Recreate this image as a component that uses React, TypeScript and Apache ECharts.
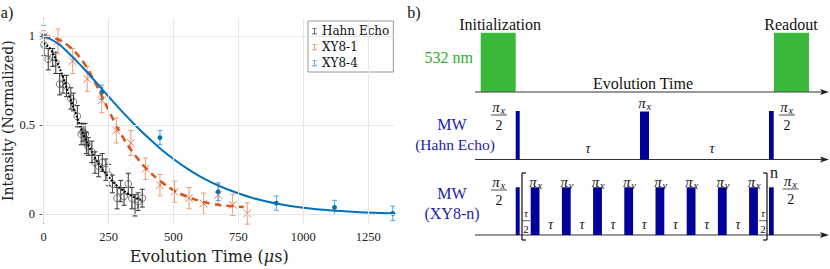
import React, { useEffect, useRef } from "react";
import * as echarts from "echarts";

// ---- data ----
const timeTicks = [0, 250, 500, 750, 1000, 1250];
const intensityTicks = [0, 0.5, 1];

const hahnT = [2, 18, 35, 47, 62, 75, 88, 105, 115, 130, 145, 152, 160, 165, 172, 186, 198, 212, 226, 240, 250, 265, 283, 297, 310, 326, 340, 352, 364, 380];
const hahnI = [0.95, 0.87, 0.88, 0.85, 0.73, 0.73, 0.72, 0.65, 0.63, 0.55, 0.45, 0.46, 0.45, 0.4, 0.38, 0.35, 0.29, 0.27, 0.29, 0.25, 0.22, 0.17, 0.09, 0.13, 0.1, 0.17, 0.09, 0.05, 0.07, 0.09];
const hahnErr = [0.06, 0.06, 0.05, 0.06, 0.06, 0.05, 0.06, 0.06, 0.05, 0.06, 0.06, 0.05, 0.06, 0.06, 0.05, 0.06, 0.06, 0.06, 0.05, 0.06, 0.06, 0.05, 0.06, 0.06, 0.05, 0.06, 0.06, 0.06, 0.05, 0.05];

const xy81T = [0, 56, 112, 168, 224, 280, 336, 392, 448, 504, 560, 616, 672, 728, 784];
const xy81I = [1.0, 0.97, 0.86, 0.76, 0.64, 0.47, 0.4, 0.255, 0.163, 0.126, 0.09, 0.059, 0.108, 0.053, 0.004];
const xy81Err = [0.03, 0.07, 0.07, 0.07, 0.07, 0.07, 0.07, 0.06, 0.06, 0.06, 0.06, 0.06, 0.06, 0.06, 0.06];

const xy84T = [0, 224, 448, 672, 896, 1120, 1344];
const xy84I = [1.0, 0.685, 0.43, 0.126, 0.062, 0.038, 0.005];
const xy84Err = [0.06, 0.04, 0.04, 0.05, 0.04, 0.04, 0.04];

const hahnFitT = [0, 25, 50, 75, 100, 125, 150, 175, 200, 225, 250, 275, 300, 325, 350, 375];
const hahnFitI = [0.96, 0.93, 0.86, 0.77, 0.66, 0.56, 0.46, 0.38, 0.31, 0.255, 0.21, 0.17, 0.14, 0.115, 0.095, 0.08];

const xy81FitT = [0, 50, 100, 150, 200, 250, 300, 350, 400, 450, 500, 550, 600, 650, 700, 770];
const xy81FitI = [1.0, 0.985, 0.94, 0.86, 0.735, 0.585, 0.445, 0.335, 0.25, 0.185, 0.135, 0.1, 0.075, 0.058, 0.048, 0.04];

const xy84FitT = [0, 50, 100, 150, 200, 250, 300, 350, 400, 450, 500, 550, 600, 650, 700, 800, 900, 1000, 1100, 1200, 1300, 1350];
const xy84FitI = [1.0, 0.964, 0.9, 0.825, 0.744, 0.661, 0.58, 0.504, 0.433, 0.368, 0.31, 0.259, 0.214, 0.176, 0.144, 0.093, 0.059, 0.036, 0.022, 0.013, 0.0074, 0.0055];

const seriesNames = ["Hahn Echo", "XY8-1", "XY8-4"];
const xy8Phases = ["x", "y", "x", "y", "y", "x", "y", "x"];

const FONT = "Liberation Serif, DejaVu Serif, serif";
const WIDE = "DejaVu Serif, Liberation Serif, serif";

const zip3 = (a: number[], b: number[], c: number[]) => a.map((v, i) => [v, b[i], c[i]]);
const zip2 = (a: number[], b: number[]) => a.map((v, i) => [v, b[i]]);

function errRender(kind: string, markColor: string, barColor: string) {
  return (params: any, api: any) => {
    const x = api.value(0), y = api.value(1), e = api.value(2);
    const c = api.coord([x, y]);
    const t = api.coord([x, y + e]);
    const b = api.coord([x, y - e]);
    const w = 2.5;
    const st = { stroke: barColor, lineWidth: 1 };
    const ch: any[] = [
      { type: "line", shape: { x1: c[0], y1: t[1], x2: c[0], y2: b[1] }, style: st },
      { type: "line", shape: { x1: c[0] - w, y1: t[1], x2: c[0] + w, y2: t[1] }, style: st },
      { type: "line", shape: { x1: c[0] - w, y1: b[1], x2: c[0] + w, y2: b[1] }, style: st },
    ];
    if (kind === "circle") {
      ch.push({ type: "circle", shape: { cx: c[0], cy: c[1], r: 3.4 }, style: { fill: "none", stroke: markColor, lineWidth: 0.8 } });
    } else if (kind === "cross") {
      const s = 3.8;
      const cs = { stroke: markColor, lineWidth: 1 };
      ch.push({ type: "line", shape: { x1: c[0] - s, y1: c[1] - s, x2: c[0] + s, y2: c[1] + s }, style: cs });
      ch.push({ type: "line", shape: { x1: c[0] - s, y1: c[1] + s, x2: c[0] + s, y2: c[1] - s }, style: cs });
    } else {
      ch.push({ type: "circle", shape: { cx: c[0], cy: c[1], r: 2.4 }, style: { fill: markColor } });
    }
    return { type: "group", children: ch };
  };
}

// ---- diagram helpers ----
const INK = "#333";
const PULSE = "#00009a";
const MWBLUE = "#1c1ca8";
const GREEN = "#3ab83a";

function txt(text: string, x: number, y: number, o: any = {}) {
  return {
    type: "text",
    x,
    y,
    style: {
      text,
      fill: o.fill || "#111",
      font: `${o.italic ? "italic " : ""}${o.size || 16}px ${FONT}`,
      align: o.align || "center",
      verticalAlign: "middle",
    },
  };
}
function ln(x1: number, y1: number, x2: number, y2: number, w = 1, stroke = INK) {
  return { type: "line", shape: { x1, y1, x2, y2 }, style: { stroke, lineWidth: w } };
}
function rect(x: number, y: number, w: number, h: number, fill: string) {
  return { type: "rect", shape: { x, y, width: w, height: h }, style: { fill } };
}
function piSub(cx: number, cy: number, sub: string) {
  return [txt("π", cx - 3, cy, { italic: true, size: 15 }), txt(sub, cx + 1.5, cy + 3.5, { italic: true, size: 10.5, align: "left" })];
}
function piHalf(cx: number, cy: number, sub: string) {
  return [...piSub(cx, cy, sub), ln(cx - 8, cy + 8, cx + 8, cy + 8, 0.8, "#222"), txt("2", cx, cy + 18, { size: 14 })];
}
function tauHalf(cx: number, cy: number) {
  return [txt("τ", cx, cy, { italic: true, size: 11 }), ln(cx - 4, cy + 8, cx + 4, cy + 8, 0.7, "#222"), txt("2", cx, cy + 16, { size: 11 })];
}
function arrowLine(x1: number, x2: number, y: number) {
  return [
    ln(x1, y, x2 - 4, y, 1.2),
    { type: "polygon", shape: { points: [[x2, y], [x2 - 9, y - 3], [x2 - 7, y], [x2 - 9, y + 3]] }, style: { fill: "#222" } },
  ];
}

function buildDiagram() {
  const els: any[] = [];
  els.push(txt("a)", 7, 12, { size: 16 }));
  els.push(txt("b)", 414, 12, { size: 16 }));
  // laser row
  els.push(rect(480.7, 32.7, 35, 59, GREEN));
  els.push(rect(774, 32.7, 35, 59, GREEN));
  els.push(txt("Initialization", 500, 24));
  els.push(txt("Readout", 791, 24));
  els.push(txt("532 nm", 473, 57, { align: "right", fill: "#2aae2a" }));
  els.push(txt("Evolution Time", 593, 83, { align: "left" }));
  els.push(...arrowLine(475, 829, 92));
  // Hahn row
  els.push(txt("MW", 452, 124, { fill: MWBLUE }));
  els.push(txt("(Hahn Echo)", 455, 144, { fill: MWBLUE, size: 15.5 }));
  els.push(...arrowLine(475, 829, 159.5));
  els.push(rect(515.7, 111, 4, 48.5, PULSE));
  els.push(rect(640, 111.5, 9, 48, PULSE));
  els.push(rect(769, 111, 4.7, 48.5, PULSE));
  els.push(...piHalf(499, 107, "x"));
  els.push(...piSub(645, 103, "x"));
  els.push(...piHalf(787, 107, "x"));
  els.push(txt("τ", 588, 148, { italic: true, size: 14 }));
  els.push(txt("τ", 712, 148, { italic: true, size: 14 }));
  // XY8 row
  els.push(txt("MW", 452, 193, { fill: MWBLUE }));
  els.push(txt("(XY8-n)", 452, 213, { fill: MWBLUE }));
  els.push(...arrowLine(475, 829, 235));
  els.push(rect(515.7, 187.3, 4, 47.7, PULSE));
  els.push(rect(769, 187.3, 4.7, 47.7, PULSE));
  els.push(...piHalf(499, 182, "x"));
  els.push(...piHalf(790.7, 181, "x"));
  const x0 = 530.7, step = 31.2, pw = 8.8;
  xy8Phases.forEach((ph, i) => {
    const px = x0 + i * step;
    els.push(rect(px, 187.3, pw, 47.7, PULSE));
    els.push(...piSub(px + pw / 2 + 1, 181.7, ph));
    if (i < xy8Phases.length - 1) els.push(txt("τ", px + pw + (step - pw) / 2, 224, { italic: true, size: 14 }));
  });
  els.push(...tauHalf(526, 212.7));
  els.push(...tauHalf(763, 212.7));
  // brackets
  els.push(ln(522, 173, 522, 240, 1.2, "#111"), ln(522, 173, 526, 173, 1.2, "#111"), ln(522, 240, 526, 240, 1.2, "#111"));
  els.push(ln(767, 173, 767, 240, 1.2, "#111"), ln(763, 173, 767, 173, 1.2, "#111"), ln(763, 240, 767, 240, 1.2, "#111"));
  els.push(txt("n", 774, 172, { size: 16 }));
  return els;
}

export default function App() {
  const ref = useRef<HTMLDivElement>(null);
  useEffect(() => {
    if (!ref.current) return;
    const chart = echarts.init(ref.current, undefined, { renderer: "svg" });
    const axisColor = "#555";
    const tickLabel = { fontFamily: FONT, fontSize: 12.5, color: "#222", margin: 7, formatter: (v: number) => String(v) };
    const option: any = {
      animation: false,
      backgroundColor: "#fff",
      grid: { left: 42, top: 18.3, right: 435.7, bottom: 40.7, containLabel: false },
      legend: {
        data: seriesNames,
        orient: "vertical",
        left: 308,
        top: 21,
        padding: [3, 4, 2, 4],
        itemGap: 2,
        itemWidth: 5,
        itemHeight: 11,
        icon: "path://M1,0H9V1H5.6V9H9V10H1V9H4.4V1H1Z",
        borderColor: "#999",
        borderWidth: 1,
        backgroundColor: "#fff",
        textStyle: { fontFamily: WIDE, fontSize: 12, color: "#111", lineHeight: 14 },
      },
      xAxis: [
        {
          type: "value",
          min: -6,
          max: 1350,
          position: "bottom",
          axisLine: { show: true, lineStyle: { color: axisColor, width: 1 } },
          axisTick: { show: true, inside: true, length: 4, customValues: timeTicks, lineStyle: { color: axisColor } },
          axisLabel: { ...tickLabel, customValues: timeTicks },
          splitLine: { show: false },
          name: "Evolution Time ({i|μ}s)",
          nameLocation: "middle",
          nameGap: 20,
          nameTextStyle: {
            fontFamily: WIDE,
            fontSize: 16,
            color: "#222",
            padding: [0, 18, 0, 0],
            rich: { i: { fontFamily: WIDE, fontSize: 16, fontStyle: "italic", color: "#222" } },
          },
        },
        {
          type: "value",
          min: -6,
          max: 1350,
          position: "top",
          axisLine: { show: true, lineStyle: { color: axisColor, width: 1 } },
          axisTick: { show: true, inside: true, length: 4, customValues: timeTicks, lineStyle: { color: axisColor } },
          axisLabel: { show: false },
          splitLine: { show: false },
        },
      ],
      yAxis: [
        {
          type: "value",
          min: -0.05,
          max: 1.1,
          position: "left",
          axisLine: { show: true, lineStyle: { color: axisColor, width: 1 } },
          axisTick: { show: true, inside: true, length: 4, customValues: intensityTicks, lineStyle: { color: axisColor } },
          axisLabel: { ...tickLabel, customValues: intensityTicks },
          splitLine: { show: false },
          name: "Intensity (Normalized)",
          nameLocation: "middle",
          nameGap: 27,
          nameTextStyle: { fontFamily: WIDE, fontSize: 14, color: "#222" },
        },
        {
          type: "value",
          min: -0.05,
          max: 1.1,
          position: "right",
          axisLine: { show: true, lineStyle: { color: axisColor, width: 1 } },
          axisTick: { show: true, inside: true, length: 4, customValues: intensityTicks, lineStyle: { color: axisColor } },
          axisLabel: { show: false },
          splitLine: { show: false },
        },
      ],
      series: [
        {
          type: "line",
          name: "grid",
          data: [],
          silent: true,
          z: 0,
          markLine: {
            silent: true,
            symbol: "none",
            label: { show: false },
            lineStyle: { color: "#e6e6e6", width: 1, type: "solid" },
            data: [...timeTicks.map((v) => ({ xAxis: v })), ...intensityTicks.map((v) => ({ yAxis: v }))],
          },
        },
        {
          type: "custom",
          name: seriesNames[0],
          data: zip3(hahnT, hahnI, hahnErr),
          encode: { x: 0, y: 1 },
          itemStyle: { color: "#3a3a3a" },
          renderItem: errRender("circle", "#555", "#333"),
          z: 2,
        },
        {
          type: "custom",
          name: seriesNames[1],
          data: zip3(xy81T, xy81I, xy81Err),
          encode: { x: 0, y: 1 },
          itemStyle: { color: "#ee7e55" },
          renderItem: errRender("cross", "#ee7e55", "#f09a78"),
          z: 2,
        },
        {
          type: "custom",
          name: seriesNames[2],
          data: zip3(xy84T, xy84I, xy84Err),
          encode: { x: 0, y: 1 },
          itemStyle: { color: "#2a8fd6" },
          renderItem: errRender("dot", "#0072bd", "#4da6e3"),
          z: 2,
        },
        {
          type: "line",
          name: "Hahn fit",
          data: zip2(hahnFitT, hahnFitI),
          smooth: 0.4,
          symbol: "none",
          lineStyle: { color: "#000", width: 2, type: [2, 1.5] },
          z: 3,
        },
        {
          type: "line",
          name: "XY8-1 fit",
          data: zip2(xy81FitT, xy81FitI),
          smooth: 0.4,
          symbol: "none",
          lineStyle: { color: "#d95319", width: 2.5, type: [7, 5] },
          z: 3,
        },
        {
          type: "line",
          name: "XY8-4 fit",
          data: zip2(xy84FitT, xy84FitI),
          smooth: 0.4,
          symbol: "none",
          lineStyle: { color: "#0072bd", width: 2 },
          z: 4,
        },
      ],
      graphic: { elements: buildDiagram() },
    };
    chart.setOption(option);
    return () => chart.dispose();
  }, []);
  return <div ref={ref} style={{ position: "absolute", left: 0, top: 0, width: 830, height: 269 }} />;
}
